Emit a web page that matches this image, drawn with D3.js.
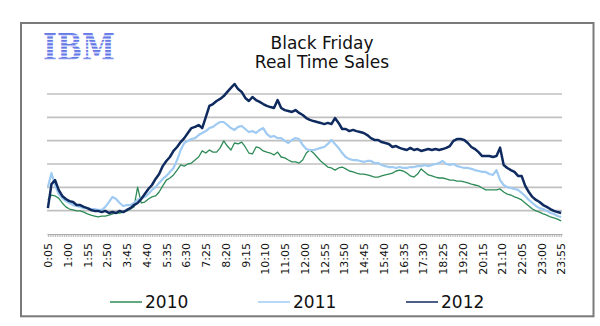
<!DOCTYPE html>
<html>
<head>
<meta charset="utf-8">
<script src="https://cdn.jsdelivr.net/npm/d3@7"></script>
<style>
  body { margin: 0; background: #fff; }
  svg { display: block; }
</style>
</head>
<body>
<div id="chart"></div>
<script>
// sales index, one value every 10 minutes starting 0:05
const sales2010 = [
  14.6,16.7,16.3,15.4,13.3,11.6,10.7,10.3,9.9,9.9,
  9.4,8.6,8.1,7.7,7.3,7.7,7.7,8.1,8.6,9,
  9,9.4,9.9,10.7,11.6,20.1,13.3,13.7,15,15.9,
  16.3,18,20.6,23.1,24,25.3,27.4,29.6,29.1,30,
  30.4,31.7,33,35.6,34.7,36,35.1,35.1,36.9,39.9,
  37.7,36,39,38.6,39.4,37.3,34.7,34.3,37.3,36.9,
  35.6,35.1,34.7,33.9,35.1,33,32.6,31.7,30.9,30.9,
  30.4,31.7,34.7,36,34.7,33,31.3,30,28.7,28.3,
  27.4,28.3,28.7,27.9,27,26.6,26.1,25.7,25.7,25.3,
  24.9,24.4,24.4,24.9,25.3,25.7,26.1,27,27.4,27,
  26.1,24.9,24.4,25.7,27.9,26.6,25.3,24.9,24.4,24,
  24,23.6,23.1,23.1,22.7,22.7,22.3,21.9,21.4,21,
  20.6,19.7,18.9,18.9,18.9,18.9,19.3,18,17.1,16.7,
  15.9,15.4,14.6,13.3,12,10.7,9.9,9.4,8.6,8.1,
  7.3,6.9,6.4,5.6
];
const sales2011 = [
  20.1,26.1,21,17.1,15.4,14.1,13.3,12.4,12,11.6,
  11.1,11.1,10.7,10.7,10.3,10.3,11.6,13.7,15.9,15,
  13.3,12,12.4,12.4,13.3,14.6,15.4,15.9,17.1,18.9,
  20.1,21.9,23.6,24.9,26.6,28.3,31.7,36,39,39.9,
  40.7,41.1,42.4,43.3,44.1,45.4,45.9,47.1,48,48,
  46.7,45.4,44.6,45.9,46.3,45,43.7,44.1,43.3,44.6,
  45.4,42.9,41.6,42,41.1,41.1,39.9,39,40.3,41.1,
  40.7,38.1,36.4,36,36,36.4,36.9,37.3,38.6,40.3,
  38.6,36.9,34.7,33,32.1,31.7,31.7,31.3,30.9,31.3,
  31.3,30.4,30.4,29.6,29.1,28.7,28.7,28.3,28.7,28.3,
  28.3,28.7,28.7,29.1,29.1,29.6,29.1,29.6,30,30.4,
  31.3,30,29.6,30,29.1,28.7,28.3,28.3,27.9,27.4,
  27,26.6,26.6,25.7,25.3,27.4,23.1,21,20.1,19.7,
  19.3,18.9,17.6,16.3,14.6,13.3,12,11.1,10.7,9.9,
  9,8.6,7.7,7.3
];
const sales2012 = [
  11.1,21.4,23.1,18.9,16.3,15,14.1,13.7,12.4,12.4,
  11.6,11.1,10.3,9.9,9.9,9.4,9.9,9,9.4,9,
  9.9,9.4,10.3,11.1,12.4,13.3,15,17.1,19.3,21,
  23.6,25.7,29.1,31.3,33,35.6,37.3,39.4,41.1,43.3,
  45.4,45.9,46.7,45.4,50.1,54.9,55.7,57,57.9,59.1,
  60.9,62.6,64.3,62.1,60.9,58.3,57,58.7,57.4,56.6,
  55.7,54.9,54.4,54,57.4,54,53.1,52.7,52.3,53.1,
  51.9,51,49.7,48.9,48.4,48,47.6,47.1,47.6,47.1,
  49.7,47.6,45,45,44.1,44.6,44.1,43.7,43.3,42.4,
  41.1,40.3,40.3,39.4,39,38.6,37.3,37.7,36.9,36.4,
  36,36.9,36,36.4,35.6,36,36.4,36,36.4,36,
  36.4,36.9,37.7,39.9,40.7,40.7,40.3,39,37.3,36.4,
  35.1,33.4,33.4,33.4,33,33.4,37,29.6,28.3,27.4,
  26.6,24.9,24.9,20.6,18,15.9,14.6,13.7,12.4,11.6,
  10.7,9.9,9.4,9
];
const tickLabels = ["0:05","1:00","1:55","2:50","3:45","4:40","5:35","6:30","7:25",
  "8:20","9:15","10:10","11:05","12:00","12:55","13:50","14:45","15:40","16:35",
  "17:30","18:25","19:20","20:15","21:10","22:05","23:00","23:55"];
const seriesNames = ["2010", "2011", "2012"];
const seriesColors = ["#2e8b57", "#9fcbf3", "#0f2a5f"];
const gridValues = [10, 20, 30, 40, 50, 60];

// one category every 5 minutes, 0:05 .. 23:55
const times = [];
for (let m = 5; m < 24 * 60; m += 5) {
  times.push(Math.floor(m / 60) + ":" + String(m % 60).padStart(2, "0"));
}

const width = 600, height = 326;
const plot = { left: 47, right: 562, top: 94, bottom: 234 };

const svg = d3.select("#chart").append("svg")
  .attr("width", width)
  .attr("height", height);

svg.append("rect").attr("width", width).attr("height", height).attr("fill", "#fff");

// frame
svg.append("rect")
  .attr("x", 21).attr("y", 23)
  .attr("width", 572.5).attr("height", 293.3)
  .attr("fill", "none")
  .attr("stroke", "#7a7a7a")
  .attr("stroke-width", 2);

const x = d3.scalePoint().domain(times).range([plot.left, plot.right]).padding(0.5);
const y = d3.scaleLinear().domain([0, 60]).range([plot.bottom, plot.top]);

// gridlines
svg.append("g")
  .selectAll("line")
  .data(gridValues)
  .enter()
  .append("line")
  .attr("x1", plot.left).attr("x2", plot.right)
  .attr("y1", d => y(d)).attr("y2", d => y(d))
  .attr("stroke", "#c0c0c0")
  .attr("stroke-width", 1.6);

// x axis: a tick per category, labels at every 11th
const labelSet = new Set(tickLabels);
const axis = svg.append("g")
  .attr("transform", "translate(0," + plot.bottom + ")")
  .call(d3.axisBottom(x).tickValues(times).tickSize(3).tickSizeOuter(0)
    .tickFormat(d => labelSet.has(d) ? d : ""));

axis.select(".domain").attr("stroke", "#b0b0b0").attr("stroke-width", 1.2);
axis.selectAll(".tick line").attr("stroke", "#a8a8a8").attr("stroke-width", 0.8);
axis.selectAll(".tick text")
  .attr("transform", "rotate(-90)")
  .attr("x", -9)
  .attr("y", 0)
  .attr("dy", "0.35em")
  .style("text-anchor", "end")
  .style("font-family", "DejaVu Sans")
  .style("font-size", "11px")
  .attr("fill", "#111");

// lines
const series = [sales2010, sales2011, sales2012];
const line = d3.line()
  .x((d, i) => x(times[i * 2]))
  .y(d => y(d));

const widths = [1.3, 2.2, 2.5];
series.forEach((s, i) => {
  svg.append("path")
    .datum(s)
    .attr("d", line)
    .attr("fill", "none")
    .attr("stroke", seriesColors[i])
    .attr("stroke-width", widths[i])
    .attr("stroke-linejoin", "round");
});

// title
const title = svg.append("text")
  .attr("x", 322)
  .attr("text-anchor", "middle")
  .style("font-family", "DejaVu Sans")
  .style("font-size", "17px")
  .attr("fill", "#111");
title.append("tspan").attr("x", 322).attr("y", 49).text("Black Friday");
title.append("tspan").attr("x", 322).attr("y", 68).text("Real Time Sales");

// striped logo
const defs = svg.append("defs");
const pat = defs.append("pattern")
  .attr("id", "stripes")
  .attr("patternUnits", "userSpaceOnUse")
  .attr("x", 0).attr("y", 33)
  .attr("width", 10).attr("height", 3.4);
pat.append("rect").attr("width", 10).attr("height", 2.2).attr("fill", "#6478e6");

svg.append("text")
  .attr("x", 43).attr("y", 60)
  .attr("textLength", 72)
  .attr("lengthAdjust", "spacingAndGlyphs")
  .style("font-family", "DejaVu Serif")
  .style("font-weight", "bold")
  .style("font-size", "37px")
  .attr("fill", "url(#stripes)")
  .text("IBM");

// legend
const legend = svg.append("g")
  .selectAll("g")
  .data(seriesNames)
  .enter()
  .append("g")
  .attr("transform", (d, i) => "translate(" + (110 + i * 148) + ",302)");

legend.append("line")
  .attr("x1", 0).attr("x2", 32)
  .attr("stroke", (d, i) => seriesColors[i])
  .attr("stroke-width", 1.5);

legend.append("text")
  .attr("x", 35)
  .attr("y", 5.5)
  .style("font-family", "DejaVu Sans")
  .style("font-size", "17px")
  .attr("fill", "#111")
  .text(d => d);
</script>
</body>
</html>
